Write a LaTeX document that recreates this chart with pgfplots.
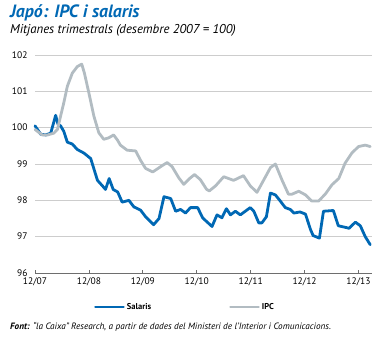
\documentclass[border=0pt]{standalone}
\usepackage{pgfplots}
\pgfplotsset{compat=1.18}
\usepackage{fontspec}
\setmainfont{PT Sans}
\definecolor{cblue}{RGB}{0,104,180}
\definecolor{cgrey}{RGB}{178,188,194}
\definecolor{gridc}{RGB}{205,205,205}
\definecolor{axc}{RGB}{110,110,110}
\begin{document}
\begin{tikzpicture}
\path[use as bounding box] (0pt,0pt) rectangle (380pt,338pt);
\node[anchor=base west,inner sep=0pt,text=cblue,font=\fontsize{17.8}{19}\selectfont\bfseries\itshape] at (10pt,320.5pt) {Japó: IPC i salaris};
\node[anchor=base west,inner sep=0pt,font=\fontsize{12.8}{14}\selectfont\itshape] at (10pt,304pt) {Mitjanes trimestrals (desembre 2007 = 100)};
\node[anchor=base west,inner sep=0pt,font=\fontsize{9.2}{10}\selectfont\itshape] at (10pt,9pt) {\textbf{Font:} “la Caixa” Research, a partir de dades del Ministeri de l’Interior i Comunicacions.};
\begin{axis}[
  at={(35pt,65pt)}, anchor=south west,
  scale only axis, width=337pt, height=218pt,
  xmin=0, xmax=75, ymin=96, ymax=102,
  xtick={0,12,24,36,48,60,72},
  xticklabels={12/07,12/08,12/09,12/10,12/11,12/12,12/13},
  ytick={96,97,98,99,100,101,102},
  ymajorgrids, grid style={gridc, line width=0.7pt},
  axis x line*=bottom, axis y line*=left,
  x axis line style={axc, line width=0.7pt, -},
  y axis line style={draw=none},
  xtick style={axc, line width=0.7pt},
  ytick style={draw=none},
  tick align=inside, major tick length=3.5pt,
  /pgf/number format/assume math mode=true,
  ticklabel style={font=\fontsize{9.5}{10}\selectfont},
  yticklabel style={xshift=-4pt},
  xticklabel style={yshift=-1pt},
  legend style={at={(0.445,-0.156)}, anchor=center, draw=none, fill=none,
    font=\fontsize{8.5}{9}\selectfont\bfseries, legend columns=2,
    /tikz/every even column/.append style={column sep=76pt}},
  legend image code/.code={\draw[#1, line width=2.8pt] (0pt,0pt) -- (28pt,0pt);},
  every axis plot/.append style={line width=2.8pt, line join=round, line cap=round},
  clip=false,
]
\addplot[cblue, no marks] coordinates {
(0,100.05) (1.27,99.82) (2.4,99.8) (3.5,99.85) (4.6,100.34) (5.1,100.1) (5.7,100.05)
(6.4,99.9) (7.2,99.6) (8.3,99.55) (9.4,99.4) (10.9,99.3) (12.4,99.15) (13.1,98.87)
(13.9,98.55) (15,98.4) (15.7,98.3) (16.5,98.6) (17.4,98.3) (18.4,98.23) (19.4,97.95)
(20.9,98.0) (22,97.82) (23.5,97.73) (24.6,97.55) (26.4,97.33) (27.6,97.5) (28.7,98.1)
(30.2,98.05) (31.3,97.7) (32.4,97.75) (33.5,97.65) (34.6,97.8) (36.2,97.8) (37.3,97.52)
(37.9,97.45) (39.4,97.28) (40.5,97.6) (41.6,97.52) (42.6,97.77) (43.5,97.6) (44.6,97.7)
(45.7,97.6) (46.8,97.7) (47.9,97.8) (48.7,97.7) (49.8,97.38) (50.5,97.38) (51.5,97.55)
(52.4,98.2) (53.5,98.15) (54.6,97.98) (55.7,97.8) (56.8,97.75) (57.6,97.65) (59,97.68)
(60.2,97.62) (61.3,97.2) (61.9,97.03) (63.3,96.96) (64.2,97.7) (66.4,97.72) (67.5,97.3)
(69.3,97.25) (69.9,97.23) (71.3,97.4) (72.4,97.3) (73.5,97.0) (74.6,96.78)
};
\addlegendentry{Salaris}
\addplot[cgrey, no marks] coordinates {
(0,99.95) (1.6,99.8) (2.8,99.8) (4.2,99.85) (5,99.95) (5.7,100.32) (6.4,100.68)
(7.2,101.14) (8.3,101.5) (9.4,101.68) (10.4,101.75) (11,101.5) (12,100.95) (13.1,100.32)
(14.2,99.86) (15.3,99.68) (16.4,99.72) (17.5,99.8) (18.4,99.65) (19,99.52) (20.5,99.38)
(22.4,99.36) (23.5,99.1) (24.6,98.88) (26.2,98.78) (28,98.93) (29.4,99.04) (30.5,98.93)
(32,98.62) (33.1,98.44) (34.4,98.6) (35.5,98.71) (36.8,98.57) (38.2,98.3) (38.8,98.26)
(40.2,98.4) (42,98.65) (44.2,98.55) (46.4,98.68) (47.9,98.4) (49.4,98.22) (51.3,98.65)
(52.4,98.9) (53.5,99.0) (55,98.55) (56.4,98.17) (57.2,98.17) (58.7,98.25) (60.2,98.15)
(61.6,97.98) (63.1,97.98) (64.6,98.17) (66.1,98.43) (67.6,98.6) (69,99.02) (70.5,99.3)
(72,99.48) (73.5,99.52) (74.6,99.48)
};
\addlegendentry{IPC}
\end{axis}
\end{tikzpicture}
\end{document}
